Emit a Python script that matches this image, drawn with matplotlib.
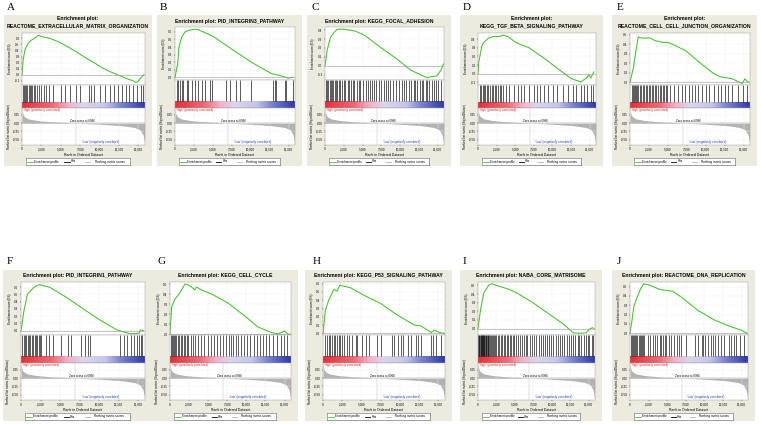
import numpy as np
import matplotlib
matplotlib.use("Agg")
import matplotlib.pyplot as plt
from matplotlib.patches import Rectangle
from matplotlib.colors import LinearSegmentedColormap

# ---------------- data ----------------
letters = ["A", "B", "C", "D", "E", "F", "G", "H", "I", "J"]
titles = [
    ["Enrichment plot:", "REACTOME_EXTRACELLULAR_MATRIX_ORGANIZATION"],
    ["Enrichment plot: PID_INTEGRIN3_PATHWAY"],
    ["Enrichment plot: KEGG_FOCAL_ADHESION"],
    ["Enrichment plot:", "KEGG_TGF_BETA_SIGNALING_PATHWAY"],
    ["Enrichment plot:", "REACTOME_CELL_CELL_JUNCTION_ORGANIZATION"],
    ["Enrichment plot: PID_INTEGRIN1_PATHWAY"],
    ["Enrichment plot: KEGG_CELL_CYCLE"],
    ["Enrichment plot: KEGG_P53_SIGNALING_PATHWAY"],
    ["Enrichment plot: NABA_CORE_MATRISOME"],
    ["Enrichment plot: REACTOME_DNA_REPLICATION"],
]

A_x = [0, 150, 400, 800, 1200, 1700, 2100, 2600, 3600, 4600, 5800, 7000, 8200, 9400, 10400, 11450, 12500, 13600, 14300, 14700, 14950, 15200, 15450, 15700]
A_y = [0.0, 0.25, 0.42, 0.52, 0.57, 0.61, 0.65, 0.63, 0.60, 0.55, 0.47, 0.38, 0.28, 0.19, 0.11, 0.045, -0.01, -0.07, -0.10, -0.13, -0.11, -0.07, -0.03, 0.0]
B_x = [0, 350, 530, 880, 1320, 1760, 2550, 3070, 5050, 7680, 10100, 12730, 14050, 14930, 15580]
B_y = [0.0, 0.18, 0.40, 0.53, 0.60, 0.62, 0.635, 0.63, 0.54, 0.36, 0.20, 0.05, 0.02, -0.01, 0.0]
C_x = [0, 300, 740, 1180, 1610, 2490, 4010, 5320, 7500, 9680, 11420, 13600, 14040, 14910, 15430, 15780]
C_y = [0.0, 0.18, 0.32, 0.37, 0.41, 0.41, 0.39, 0.34, 0.20, 0.07, -0.05, -0.135, -0.125, -0.115, -0.05, 0.02]
D_x = [0, 90, 520, 740, 1400, 2050, 2920, 3360, 4010, 5100, 6850, 9030, 10770, 12510, 13820, 14690, 14910, 15130, 15570]
D_y = [0.0, 0.13, 0.32, 0.36, 0.41, 0.43, 0.43, 0.445, 0.43, 0.36, 0.30, 0.17, 0.055, -0.055, -0.095, -0.04, -0.01, -0.05, 0.02]
E_x = [0, 440, 780, 1090, 1310, 1960, 2620, 3270, 4360, 5010, 5670, 7410, 9160, 10900, 11770, 13520, 14820, 15170, 15480, 15700]
E_y = [0.0, 0.15, 0.33, 0.48, 0.47, 0.465, 0.47, 0.44, 0.42, 0.42, 0.40, 0.33, 0.21, 0.10, 0.06, 0.035, -0.015, 0.035, 0.007, 0.0]
F_x = [0, 390, 820, 1250, 1680, 2330, 2760, 3630, 5790, 7950, 10110, 12270, 14000, 15080, 15290, 15640]
F_y = [0.0, 0.28, 0.50, 0.55, 0.60, 0.635, 0.62, 0.60, 0.46, 0.30, 0.145, 0.01, -0.045, -0.036, 0.01, 0.0]
G_x = [0, 220, 650, 1090, 1520, 1960, 2390, 2830, 3260, 3480, 4130, 5440, 7610, 9790, 11530, 13270, 14140, 15010, 15440, 15750]
G_y = [0.0, 0.27, 0.35, 0.39, 0.44, 0.50, 0.49, 0.47, 0.44, 0.47, 0.44, 0.40, 0.31, 0.18, 0.07, 0.015, 0.0, 0.03, 0.0, -0.005]
H_x = [0, 310, 740, 1400, 1830, 2180, 2700, 3580, 5320, 7500, 9680, 11860, 12730, 14040, 14480, 15130, 15700]
H_y = [0.0, 0.28, 0.40, 0.53, 0.51, 0.58, 0.57, 0.55, 0.46, 0.36, 0.22, 0.10, 0.09, 0.01, 0.04, 0.01, 0.0]
I_x = [0, 350, 780, 1430, 1860, 2510, 4030, 5110, 7270, 9440, 11600, 12900, 13770, 14640, 15070, 15500, 15720]
I_y = [0.0, 0.22, 0.41, 0.50, 0.52, 0.50, 0.46, 0.42, 0.31, 0.18, 0.05, -0.05, -0.055, -0.05, -0.01, 0.01, 0.0]
J_x = [0, 300, 520, 950, 1390, 1820, 2470, 3120, 3990, 4860, 5730, 7030, 9200, 11370, 13540, 14840, 15710]
J_y = [0.0, 0.155, 0.29, 0.38, 0.47, 0.53, 0.52, 0.50, 0.47, 0.46, 0.45, 0.38, 0.24, 0.14, 0.07, 0.035, 0.0]

A_hits = [100, 250, 400, 550, 700, 850, 1000, 1150, 1300, 1500, 1700, 1900, 2150, 2500, 2800, 3100, 3500, 4000, 5000, 5500, 6200, 6900, 7500, 8600, 8900, 9300, 10000, 10700, 11300, 11800, 12400, 12900, 13400, 13800, 14300, 14800, 15300, 15600]
B_hits = [220, 440, 660, 880, 1100, 1540, 1760, 2200, 2630, 3070, 3510, 3950, 4610, 4830, 6800, 7240, 8120, 8560, 10100, 12950, 13170, 13390, 14490, 14710, 15580]
C_hits = [150, 300, 450, 600, 800, 950, 1100, 1300, 1500, 1650, 1800, 2000, 2300, 2500, 2700, 3000, 3200, 3400, 3700, 3900, 4200, 4500, 4700, 5000, 5400, 5700, 6000, 6300, 6500, 6800, 7200, 7500, 7800, 8100, 8400, 8700, 9000, 9400, 9800, 10200, 10500, 10800, 11200, 11500, 11800, 12000, 12300, 12600, 12900, 13100, 13400, 13600, 13900, 14200, 14500, 14800, 15100, 15400]
D_hits = [220, 390, 610, 740, 960, 1180, 1400, 1610, 1830, 2050, 2270, 2480, 2700, 2920, 3140, 3360, 3790, 4230, 4880, 5320, 5760, 6190, 6850, 7500, 7940, 8370, 8810, 9460, 10120, 10550, 11420, 12080, 12730, 13170, 13820, 14260, 14690, 15130, 15480]
E_hits = [200, 350, 500, 650, 800, 950, 1100, 1300, 1500, 1700, 1900, 2100, 2300, 2500, 2700, 2900, 3100, 3300, 3500, 3700, 3900, 4100, 4300, 4500, 4700, 4900, 5300, 5800, 6300, 6900, 7300, 7800, 8200, 8600, 9000, 9500, 10000, 10500, 11100, 11600, 12000, 12500, 13000, 13500, 14200, 14900, 15400]
F_hits = [170, 350, 520, 690, 860, 1040, 1210, 1380, 1560, 1730, 1900, 2070, 2250, 2400, 2550, 3200, 3630, 4060, 5140, 6000, 6430, 7730, 8160, 8600, 8810, 12700, 13140, 13570, 14000, 14430, 14870, 15080, 15300, 15520]
G_hits = [100, 250, 400, 550, 700, 850, 1000, 1200, 1400, 1600, 1800, 2000, 2200, 2400, 2700, 3000, 3300, 3700, 4100, 4500, 5000, 5400, 5700, 6100, 6500, 6900, 7300, 7700, 8000, 8300, 8600, 8900, 9300, 9700, 10100, 10500, 11000, 11400, 11800, 12200, 12600, 13000, 13500, 14000, 14500, 14900, 15300]
H_hits = [300, 520, 740, 960, 1180, 1400, 1610, 1830, 2050, 2180, 2490, 2700, 3140, 3360, 3790, 4230, 4450, 5100, 5540, 5970, 7060, 7500, 9020, 9240, 9680, 10120, 10340, 10990, 11420, 12080, 12300, 12730, 14040, 14260, 14690, 15350]
I_hits = [50, 120, 200, 280, 350, 430, 500, 580, 650, 730, 800, 880, 950, 1030, 1100, 1200, 1300, 1400, 1500, 1600, 1700, 1850, 2000, 2150, 2300, 2450, 2700, 2900, 3100, 3300, 3500, 3650, 3900, 4100, 4300, 4500, 4700, 4900, 5200, 5400, 5700, 5900, 6200, 6500, 6700, 7000, 7300, 7600, 7900, 8200, 8500, 8800, 9100, 9400, 9600, 9900, 10200, 10500, 10800, 11100, 11400, 11700, 12000, 12300, 12600, 12900, 13200, 13500, 13700, 14000, 14300, 14600, 14900, 15100, 15400, 15600]
J_hits = [100, 250, 400, 550, 700, 850, 1000, 1150, 1300, 1450, 1600, 1750, 1900, 2470, 2690, 3130, 3340, 3560, 3990, 4210, 4430, 4640, 4860, 5290, 5510, 5940, 6380, 6600, 6810, 7460, 8760, 9200, 9630, 9850, 10070, 10500, 10940, 11150, 11370, 11800, 12240, 12670, 13320, 13540, 13970, 14190, 14840, 15280]

es_x = [A_x, B_x, C_x, D_x, E_x, F_x, G_x, H_x, I_x, J_x]
es_y = [A_y, B_y, C_y, D_y, E_y, F_y, G_y, H_y, I_y, J_y]
hits = [A_hits, B_hits, C_hits, D_hits, E_hits, F_hits, G_hits, H_hits, I_hits, J_hits]

es_ylims = [(-0.17, 0.69), (-0.035, 0.665), (-0.16, 0.435), (-0.13, 0.47), (-0.03, 0.52),
            (-0.06, 0.67), (-0.01, 0.52), (-0.02, 0.62), (-0.075, 0.54), (-0.02, 0.55)]
es_ticks = [[-0.1, 0.0, 0.1, 0.2, 0.3, 0.4, 0.5, 0.6], [0.0, 0.1, 0.2, 0.3, 0.4, 0.5, 0.6],
            [-0.1, 0.0, 0.1, 0.2, 0.3, 0.4], [-0.1, 0.0, 0.1, 0.2, 0.3, 0.4], [0.0, 0.1, 0.2, 0.3, 0.4, 0.5],
            [0.0, 0.1, 0.2, 0.3, 0.4, 0.5, 0.6], [0.0, 0.1, 0.2, 0.3, 0.4, 0.5], [0.0, 0.1, 0.2, 0.3, 0.4, 0.5, 0.6],
            [0.0, 0.1, 0.2, 0.3, 0.4, 0.5], [0.0, 0.1, 0.2, 0.3, 0.4, 0.5]]

metric_x = [0, 100, 300, 800, 2000, 4000, 6000, 6966, 9000, 11000, 13000, 14500, 15200, 15600, 15800]
metric_y = [0.45, 0.30, 0.20, 0.13, 0.08, 0.04, 0.015, 0.0, -0.02, -0.045, -0.08, -0.13, -0.20, -0.35, -0.60]
zero_cross = 6966
rank_ticks = [0, 2500, 5000, 7500, 10000, 12500, 15000]
rank_tick_labels = ["0", "2,500", "5,000", "7,500", "10,000", "12,500", "15,000"]
metric_ticks = [0.25, 0.0, -0.25, -0.5]

# ---------------- layout (pixels) ----------------
W, H = 761, 424
frames = [
    (4, 15, 152, 166), (157, 15, 302, 166), (307, 15, 451, 166), (460, 15, 603, 166), (612, 15, 757, 166),
    (3, 270, 152, 421), (152, 270, 298, 421), (305, 270, 452, 421), (460, 270, 602, 421), (612, 270, 755, 421),
]
letter_pos = [(7, 7), (160, 7), (312, 7), (463, 7), (617, 7),
              (7, 262), (157, 262), (313, 262), (463, 262), (617, 262)]

FRAME_C = "#ecebdf"
GREEN = "#4fc23a"
XMAX = 15850

fig = plt.figure(figsize=(W / 100, H / 100), dpi=100)
fig.patch.set_facecolor("white")
plt.rcParams["font.family"] = ["Liberation Sans", "DejaVu Sans"]

def ax_px(x, y, w, h):
    return fig.add_axes([x / W, 1 - (y + h) / H, w / W, h / H])

cmap = LinearSegmentedColormap.from_list(
    "gsea", [(0.0, "#e3303a"), (0.25, "#ee6b78"), (0.38, "#f3b3c8"), (0.5, "#dcd6ec"),
             (0.68, "#c4c6e8"), (0.8, "#7f86cf"), (1.0, "#2f3aa6")])

TICK_FS = 2.2
for i in range(10):
    fl, ft, fr, fb = frames[i]
    fig.add_artist(Rectangle((fl / W, 1 - fb / H), (fr - fl) / W, (fb - ft) / H,
                             transform=fig.transFigure, facecolor=FRAME_C, edgecolor="none", zorder=-1))
    lx, ly = letter_pos[i]
    fig.text(lx / W, 1 - ly / H, letters[i], fontsize=8, family="Liberation Serif",
             ha="left", va="center")
    cx = (fl + fr) / 2
    two = len(titles[i]) == 2
    if two:
        fig.text(cx / W, 1 - (ft + 3.5) / H, titles[i][0], fontsize=3.7, weight="bold", ha="center", va="center")
        fig.text(cx / W, 1 - (ft + 11) / H, titles[i][1], fontsize=3.7, weight="bold", ha="center", va="center")
    else:
        fig.text(cx / W, 1 - (ft + 6) / H, titles[i][0], fontsize=3.7, weight="bold", ha="center", va="center")

    pl = fl + 18
    pr = fr - 7
    pw = pr - pl
    es_top = ft + (18 if two else 12)
    es_bot = ft + (70 if two else 65)
    hit_bot = ft + 93
    rk_bot = ft + 130

    # ES panel
    ax = ax_px(pl, es_top, pw, es_bot - es_top)
    ax.plot(es_x[i], es_y[i], color=GREEN, lw=0.8)
    ax.axhline(0, color="#9a9a9a", lw=0.4)
    ax.set_xlim(0, XMAX)
    ax.set_ylim(*es_ylims[i])
    ax.set_yticks(es_ticks[i])
    ax.set_yticklabels(["%.1f" % t for t in es_ticks[i]])
    ax.set_xticks(rank_ticks)
    ax.tick_params(axis="x", length=0, labelbottom=False)
    ax.tick_params(axis="y", labelsize=TICK_FS, length=1, width=0.3, pad=0.8)
    ax.grid(True, color="#eeeeee", lw=0.3)
    ax.set_ylabel("Enrichment score (ES)", fontsize=TICK_FS, labelpad=1.5)
    for s in ax.spines.values():
        s.set_linewidth(0.3)
        s.set_color("#999999")

    # hits panel
    axh = ax_px(pl, es_bot, pw, hit_bot - es_bot)
    axh.vlines(hits[i], 0.24, 1.0, color="black", lw=0.45)
    grad = np.linspace(0, 1, 256).reshape(1, -1)
    axh.imshow(grad, cmap=cmap, aspect="auto", extent=(0, XMAX, 0.0, 0.22))
    axh.set_xlim(0, XMAX)
    axh.set_ylim(0, 1)
    axh.set_xticks([])
    axh.set_yticks([])
    for s in axh.spines.values():
        s.set_linewidth(0.3)
        s.set_color("#999999")

    # ranked metric panel
    axr = ax_px(pl, hit_bot, pw, rk_bot - hit_bot)
    axr.fill_between(metric_x, metric_y, 0, color="#b3b3b3", lw=0)
    axr.axhline(0, color="#9a9a9a", lw=0.3)
    axr.axvline(zero_cross, color="#bbbbbb", lw=0.3)
    axr.set_xlim(0, XMAX)
    axr.set_ylim(-0.66, 0.46)
    axr.set_yticks(metric_ticks)
    axr.set_yticklabels(["%.2f" % t for t in metric_ticks])
    axr.set_xticks(rank_ticks)
    axr.set_xticklabels(rank_tick_labels)
    axr.tick_params(labelsize=TICK_FS, length=1, width=0.3, pad=0.8)
    axr.grid(True, color="#eeeeee", lw=0.3)
    axr.set_ylabel("Ranked list metric (Signal2Noise)", fontsize=TICK_FS, labelpad=1.5)
    axr.set_xlabel("Rank in Ordered Dataset", fontsize=TICK_FS + 0.3, labelpad=0.8)
    axr.text(150, 0.40, "'High' (positively correlated)", color="#e02020", fontsize=TICK_FS,
             ha="left", va="center")
    axr.text(zero_cross + 800, 0.06, "Zero cross at %d" % zero_cross, color="black", fontsize=TICK_FS,
             ha="center", va="center")
    axr.text(10200, -0.56, "'Low' (negatively correlated)", color="#2040d0", fontsize=TICK_FS,
             ha="center", va="center")
    for s in axr.spines.values():
        s.set_linewidth(0.3)
        s.set_color("#999999")

    # legend box
    lg_l = fl + 22
    lg_r = fr - 22
    axl = ax_px(lg_l, ft + 143, lg_r - lg_l, 7)
    axl.set_xlim(0, 1)
    axl.set_ylim(0, 1)
    axl.set_xticks([])
    axl.set_yticks([])
    axl.set_facecolor("white")
    for s in axl.spines.values():
        s.set_linewidth(0.4)
        s.set_color("#666666")
    axl.plot([0.01, 0.07], [0.5, 0.5], color=GREEN, lw=0.6)
    axl.text(0.08, 0.5, "Enrichment profile", fontsize=TICK_FS, va="center", ha="left")
    axl.plot([0.37, 0.42], [0.5, 0.5], color="black", lw=0.6)
    axl.text(0.43, 0.5, "Hits", fontsize=TICK_FS, va="center", ha="left")
    axl.plot([0.57, 0.62], [0.5, 0.5], color="#b3b3b3", lw=0.6)
    axl.text(0.66, 0.5, "Ranking metric scores", fontsize=TICK_FS, va="center", ha="left")

fig.savefig("out.png", dpi=100, facecolor="white")
